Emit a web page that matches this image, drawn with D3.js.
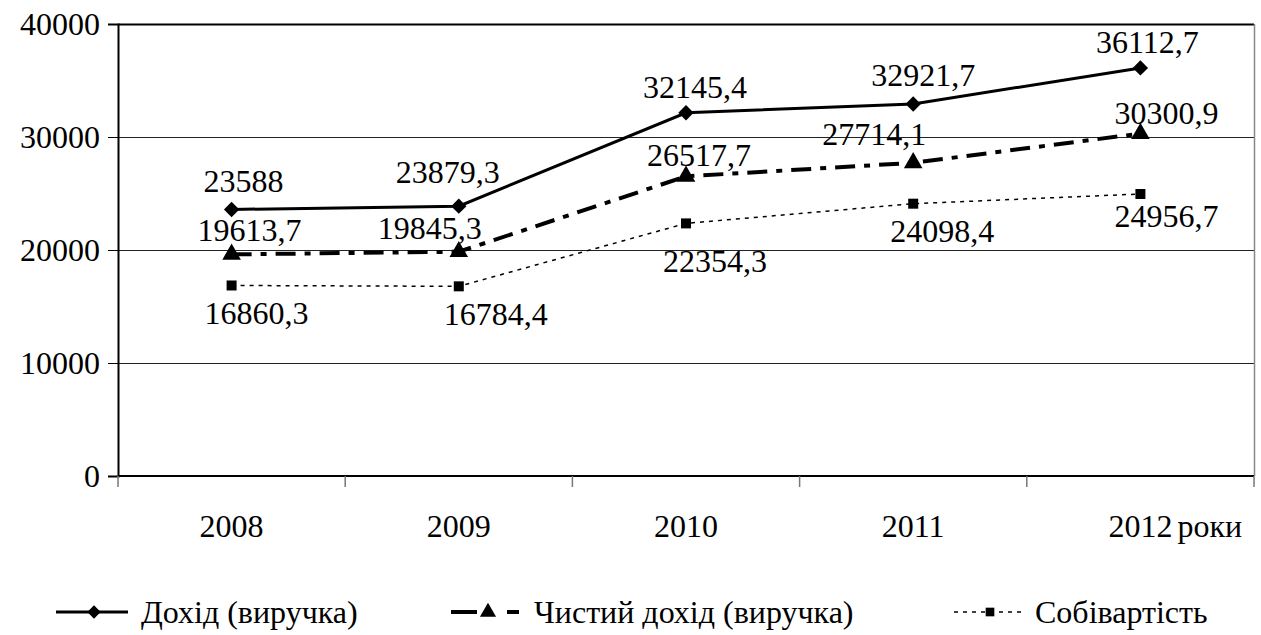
<!DOCTYPE html>
<meta charset="utf-8">
<script src="https://d3js.org/d3.v7.min.js"></script>
<style>
  body { margin: 0; background: #fff; }
  svg text { font-family: "Liberation Serif", "Times New Roman", serif; fill: #000; }
</style>
<body>
<div id="chart"></div>
<script>

// data
var years = ["2008", "2009", "2010", "2011", "2012"];
var seriesNames = ["Дохід (виручка)", "Чистий дохід (виручка)", "Собівартість"];
var income = [23588, 23879.3, 32145.4, 32921.7, 36112.7];
var netIncome = [19613.7, 19845.3, 26517.7, 27714.1, 30300.9];
var cost = [16860.3, 16784.4, 22354.3, 24098.4, 24956.7];
var yTicks = [0, 10000, 20000, 30000, 40000];

var width = 1261, height = 635;
var margin = {top: 24, right: 7, bottom: 159, left: 118};
var serif = "'Liberation Serif', 'Times New Roman', serif";

var svg = d3.select("#chart").append("svg")
    .attr("width", width)
    .attr("height", height)
    .attr("font-family", serif);

var x = d3.scaleBand()
    .domain(years)
    .range([margin.left, width - margin.right])
    .padding(0);

var y = d3.scaleLinear()
    .domain([0, 40000])
    .range([height - margin.bottom, margin.top]);

// gridlines
svg.append("g")
  .selectAll("line")
  .data(yTicks.slice(1))
  .enter().append("line")
    .attr("x1", margin.left)
    .attr("x2", width - margin.right)
    .attr("y1", function(d) { return Math.round(y(d)) + 0.5; })
    .attr("y2", function(d) { return Math.round(y(d)) + 0.5; })
    .attr("stroke", function(d) { return d == 40000 ? "#000" : "#222"; })
    .attr("stroke-width", function(d) { return d == 40000 ? 2 : 1; });

// right border
svg.append("line")
    .attr("x1", width - margin.right + 0.5).attr("x2", width - margin.right + 0.5)
    .attr("y1", margin.top).attr("y2", y(0))
    .attr("stroke", "#888").attr("stroke-width", 1.5);

// y axis
var yAxis = svg.append("g")
    .attr("transform", "translate(" + margin.left + ",0)")
    .call(d3.axisLeft(y).tickValues(yTicks).tickSize(10).tickPadding(8).tickFormat(d3.format("d")));
yAxis.attr("font-family", serif);
yAxis.select(".domain").attr("stroke", "#000").attr("stroke-width", 2);
yAxis.selectAll(".tick line").attr("stroke", "#000");
yAxis.selectAll("text")
    .style("font-family", serif)
    .style("font-size", "32px")
    .attr("dy", "0.34em");

// x axis: ticks at category boundaries
var xAxis = svg.append("g")
    .attr("transform", "translate(0," + y(0) + ")");
xAxis.append("line")
    .attr("x1", margin.left).attr("x2", width - margin.right)
    .attr("stroke", "#000").attr("stroke-width", 2);
xAxis.selectAll(".bt")
  .data(years.concat(["end"]))
  .enter().append("line")
    .attr("class", "bt")
    .attr("x1", function(d, i) { return margin.left + i * x.bandwidth(); })
    .attr("x2", function(d, i) { return margin.left + i * x.bandwidth(); })
    .attr("y1", 0).attr("y2", 11)
    .attr("stroke", "#777").attr("stroke-width", 1.5);
xAxis.selectAll(".lbl")
  .data(years)
  .enter().append("text")
    .attr("class", "lbl")
    .attr("x", function(d) { return x(d) + x.bandwidth() / 2; })
    .attr("y", 61)
    .attr("text-anchor", "middle")
    .style("font-family", serif)
    .style("font-size", "32px")
    .text(function(d) { return d; });
xAxis.append("text")
    .attr("x", x("2012") + x.bandwidth() / 2 + 37)
    .attr("y", 61)
    .style("font-family", serif)
    .style("font-size", "32px")
    .text("роки");

var cx = function(d, i) { return x(years[i]) + x.bandwidth() / 2; };
var line = d3.line()
    .x(function(d, i) { return cx(d, i); })
    .y(function(d) { return y(d); });

// label nudges (pixels) to match the picture's placement
var styles = [
  {values: income, width: 3, dash: null, symbol: d3.symbolDiamond2, size: 150,
   dx: [12, -11, 9, 10, 7], dy: [-17, -23, -15, -18, -15]},
  {values: netIncome, width: 4, dash: "20,9,6,9", symbol: d3.symbolTriangle, size: 150,
   dx: [18, -29, 13, -39, 26], dy: [-13, -13, -10, -18, -10]},
  {values: cost, width: 1.5, dash: "4,5", symbol: d3.symbolSquare, size: 100,
   dx: [25, 37, 29, 29, 26], dy: [39, 39, 49, 38, 33]}
];

styles.forEach(function(s) {
  svg.append("path")
      .datum(s.values)
      .attr("d", line)
      .attr("fill", "none")
      .attr("stroke", "#000")
      .attr("stroke-width", s.width)
      .attr("stroke-dasharray", s.dash);

  svg.append("g").selectAll("path")
    .data(s.values)
    .enter().append("path")
      .attr("d", d3.symbol().type(s.symbol).size(s.size))
      .attr("transform", function(d, i) { return "translate(" + cx(d, i) + "," + y(d) + ")"; })
      .attr("fill", "#000");

  svg.append("g").selectAll("text")
    .data(s.values)
    .enter().append("text")
      .attr("x", function(d, i) { return cx(d, i) + s.dx[i]; })
      .attr("y", function(d, i) { return y(d) + s.dy[i]; })
      .attr("text-anchor", "middle")
      .style("font-family", serif)
      .style("font-size", "32px")
      .text(function(d) { return String(d).replace(".", ","); });
});

// legend: [line start, line length, marker offset, dash]
var legendItems = [
  {x: 56, len: 72, mark: 38, dash: null},
  {x: 451, len: 70, mark: 37, dash: "26,30,12"},
  {x: 954, len: 68, mark: 36, dash: "4,5"}
];
var legendY = 612;
var legend = svg.append("g");
styles.forEach(function(s, i) {
  var it = legendItems[i];
  var g = legend.append("g").attr("transform", "translate(" + it.x + "," + legendY + ")");
  g.append("line")
      .attr("x1", 0).attr("x2", it.len)
      .attr("stroke", "#000")
      .attr("stroke-width", s.width)
      .attr("stroke-dasharray", it.dash);
  g.append("path")
      .attr("d", d3.symbol().type(s.symbol).size(s.size * 0.75))
      .attr("transform", "translate(" + it.mark + ",0)")
      .attr("fill", "#000");
  g.append("text")
      .attr("x", it.len + 13)
      .attr("y", 11)
      .style("font-family", serif)
      .style("font-size", "32px")
      .text(seriesNames[i]);
});

</script>
</body>
